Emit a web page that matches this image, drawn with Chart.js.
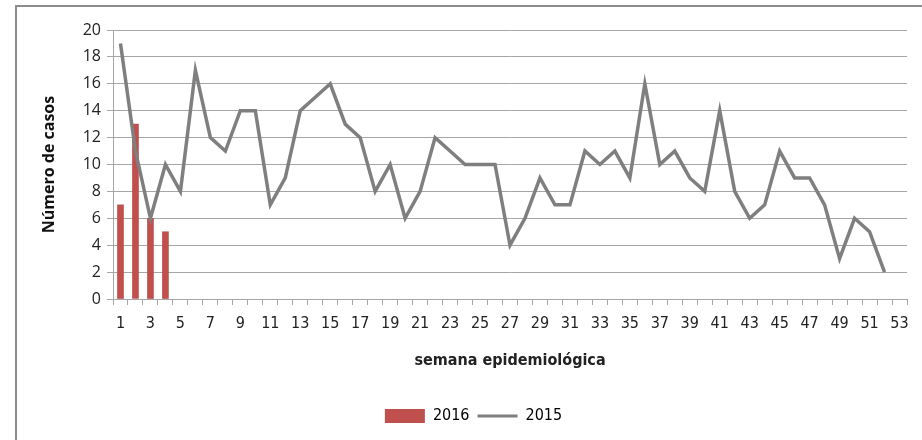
<!DOCTYPE html>
<html>
<head>
<meta charset="utf-8">
<script src="https://cdn.jsdelivr.net/npm/chart.js@4"></script>
<style>
    html, body { margin: 0; padding: 0; background: #fff; overflow: hidden; }
    .wrap { position: relative; width: 922px; height: 440px; }
    .frame { position: absolute; left: 15px; top: 5px; width: 1000px; height: 1000px; border: 2px solid #8c8c8c; box-sizing: border-box; }
    canvas { position: absolute; left: 0; top: 0; }
</style>
</head>
<body>
<div class="wrap">
    <div class="frame"></div>
    <canvas id="chart" width="922" height="440"></canvas>
</div>
<script>
// semanas 1..53
const semanas = Array.from({ length: 53 }, (_, i) => String(i + 1));

// casos 2016 (barras)
const casos2016 = [7, 13, 6, 5];

// casos 2015 (línea)
const casos2015 = [
    19, 11, 6, 10, 8, 17, 12, 11, 14, 14,
    7, 9, 14, 15, 16, 13, 12, 8, 10, 6,
    8, 12, 11, 10, 10, 10, 4, 6, 9, 7,
    7, 11, 10, 11, 9, 16, 10, 11, 9, 8,
    14, 8, 6, 7, 11, 9, 9, 7, 3, 6,
    5, 2
];

const yTicks = [0, 2, 4, 6, 8, 10, 12, 14, 16, 18, 20];

const gridGray = '#a6a6a6';
const textColor = '#222';
const narrow = 'DejaVu Sans Condensed, Liberation Sans Narrow, Open Sans';

new Chart(document.getElementById('chart'), {
    type: 'bar',
    data: {
        labels: semanas,
        datasets: [
            {
                type: 'bar',
                label: '2016',
                data: casos2016,
                backgroundColor: '#C0504D',
                barThickness: 6,
                order: 2
            },
            {
                type: 'line',
                label: '2015',
                data: casos2015,
                borderColor: '#7f7f7f',
                backgroundColor: '#7f7f7f',
                borderWidth: 3.5,
                pointRadius: 0,
                tension: 0,
                order: 1
            }
        ]
    },
    options: {
        responsive: false,
        animation: false,
        layout: { padding: { left: 40, right: 15, top: 30, bottom: 6 } },
        plugins: {
            tooltip: { enabled: false },
            legend: {
                position: 'bottom',
                labels: {
                    usePointStyle: true,
                    pointStyleWidth: 40,
                    boxHeight: 14,
                    padding: 8,
                    color: textColor,
                    font: { family: narrow, size: 16 },
                    generateLabels: chart => chart.data.datasets.map((ds, i) => ({
                        text: ds.label,
                        fillStyle: ds.backgroundColor,
                        strokeStyle: ds.type === 'line' ? ds.borderColor : ds.backgroundColor,
                        lineWidth: ds.type === 'line' ? 3 : 0,
                        pointStyle: ds.type === 'line' ? 'line' : 'rect',
                        datasetIndex: i
                    }))
                }
            }
        },
        scales: {
            x: {
                offset: true,
                grid: {
                    offset: true,
                    drawOnChartArea: false,
                    tickLength: 6,
                    color: gridGray
                },
                border: { color: gridGray },
                ticks: {
                    autoSkip: false,
                    maxRotation: 0,
                    minRotation: 0,
                    padding: 9,
                    color: textColor,
                    font: { family: narrow, size: 16 },
                    callback: (v, i) => (i % 2 === 0 ? semanas[i] : '')
                },
                title: {
                    display: true,
                    text: 'semana epidemiológica',
                    color: textColor,
                    font: { family: narrow, size: 16, weight: 'bold' },
                    padding: { top: 4, bottom: 30 }
                },
                afterFit: s => { s.height = 101; }
            },
            y: {
                min: 0,
                max: 20,
                afterBuildTicks: s => { s.ticks = yTicks.map(v => ({ value: v })); },
                grid: { color: gridGray, tickLength: 6 },
                border: { color: gridGray },
                ticks: {
                    padding: 6,
                    color: textColor,
                    font: { family: 'Open Sans', size: 16 }
                },
                title: {
                    display: true,
                    text: 'Número de casos',
                    color: '#111',
                    font: { family: 'Open Sans', size: 16, weight: 'bold' },
                    padding: { top: 0, bottom: 4 }
                },
                afterFit: s => { s.width = 73; }
            }
        }
    }
});
</script>
</body>
</html>
